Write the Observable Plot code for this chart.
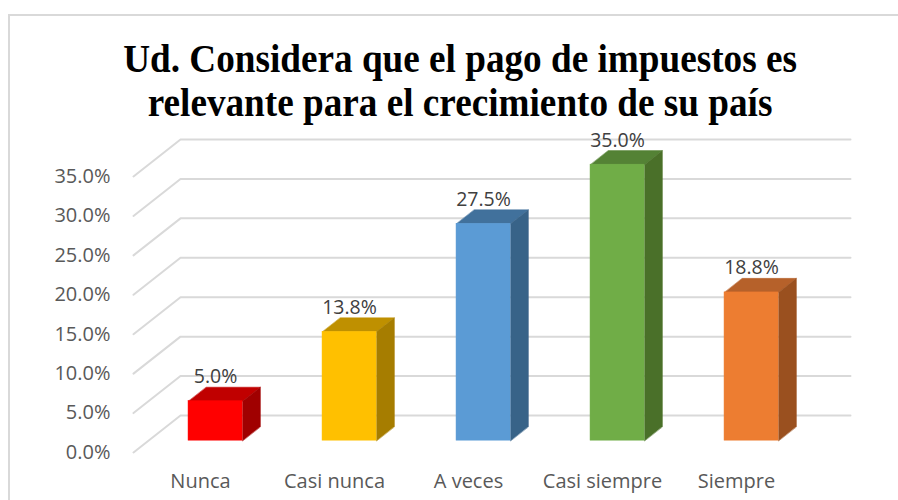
<!DOCTYPE html>
<html><head><meta charset="utf-8">
<script src="https://cdn.jsdelivr.net/npm/d3@7"></script>
<script src="https://cdn.jsdelivr.net/npm/@observablehq/plot@0.6"></script>
<style>
body{margin:0;background:#fff;}
#wrap{position:relative;width:898px;height:500px;overflow:hidden;}
#frame{position:absolute;left:8px;top:14px;width:1000px;height:600px;border:2px solid #d9d9d9;box-sizing:border-box;}
#title{position:absolute;left:0;top:37px;width:920px;text-align:center;font-family:"Liberation Serif","Times New Roman",serif;font-weight:bold;font-size:40px;line-height:44px;color:#000;transform:scaleX(0.93);transform-origin:461px 0;}
#chart{position:absolute;left:0;top:130px;}
</style></head>
<body>
<div id="wrap"><div id="frame"></div>
<div id="title">Ud. Considera que el pago de impuestos es<br>relevante para el crecimiento de su país</div>
<div id="chart"></div></div>
<script>
const categories = ["Nunca", "Casi nunca", "A veces", "Casi siempre", "Siempre"];
const values = [5.0, 13.8, 27.5, 35.0, 18.8];
const labels = ["5.0%", "13.8%", "27.5%", "35.0%", "18.8%"];
const frontColors = ["#FF0000", "#FFC000", "#5B9BD5", "#70AD47", "#ED7D31"];
const topColors = ["#C00000", "#BF9000", "#41719C", "#548235", "#B6612A"];
const sideColors = ["#A00000", "#A67D00", "#386388", "#4A7029", "#9A501F"];
const yTicks = [0, 5, 10, 15, 20, 25, 30, 35];

// depth vector (data units) of the 3D floor, and bar placement within it
const DX = 0.3507, DY = 4.69;
const bFront = 0.32, bBack = 0.70, halfW = 0.2015;

const grid = [];
yTicks.forEach(t => {
  grid.push({id: t, x: -0.5, y: t});
  grid.push({id: t, x: -0.5 + DX, y: t + DY});
  grid.push({id: t, x: 4.5 + DX, y: t + DY});
});

const faces = [];
const fronts = [];
values.forEach((v, i) => {
  const xl = i + bFront * DX - halfW, xr = i + bFront * DX + halfW;
  const yb = bFront * DY, yt = v + bFront * DY;
  const ddx = (bBack - bFront) * DX, ddy = (bBack - bFront) * DY;
  fronts.push({x1: xl, x2: xr, y1: yb, y2: yt, c: frontColors[i]});
  const top = [[xl, yt], [xr, yt], [xr + ddx, yt + ddy], [xl + ddx, yt + ddy]];
  top.forEach(([x, y]) => faces.push({id: "t" + i, x, y, c: topColors[i]}));
  const side = [[xr, yb], [xr, yt], [xr + ddx, yt + ddy], [xr + ddx, yb + ddy]];
  side.forEach(([x, y]) => faces.push({id: "s" + i, x, y, c: sideColors[i]}));
});

const dataLabels = values.map((v, i) => ({x: i + bFront * DX, y: v + bBack * DY, t: labels[i]}));
const cats = categories.map((c, i) => ({x: i, y: 0, t: c}));

const chart = Plot.plot({
  width: 898, height: 370,
  marginLeft: 133, marginRight: 95, marginTop: 46, marginBottom: 48,
  style: {fontFamily: "'Open Sans', sans-serif", overflow: "visible", background: "transparent"},
  x: {domain: [-0.5, 4.5], axis: null},
  y: {domain: [0, 35], axis: null},
  color: {type: "identity"},
  marks: [
    Plot.line(grid, {x: "x", y: "y", z: "id", stroke: "#d9d9d9", strokeWidth: 2, clip: false}),
    Plot.text(yTicks, {x: -0.5, y: d => d, text: d => d.toFixed(1) + "%", textAnchor: "end", dx: -23, fill: "#595959", fontSize: 20}),
    Plot.line(faces, {x: "x", y: "y", z: "id", fill: "c", stroke: "c", strokeWidth: 0.5, curve: "linear-closed"}),
    Plot.rect(fronts, {x1: "x1", x2: "x2", y1: "y1", y2: "y2", fill: "c", stroke: "c", strokeWidth: 0.5}),
    Plot.text(dataLabels, {x: "x", y: "y", text: "t", dy: -4, lineAnchor: "bottom", fill: "#404040", fontSize: 19.5}),
    Plot.text(cats, {x: "x", y: "y", text: "t", dy: 29, fill: "#595959", fontSize: 20})
  ]
});
document.getElementById("chart").appendChild(chart);
</script>
</body></html>
